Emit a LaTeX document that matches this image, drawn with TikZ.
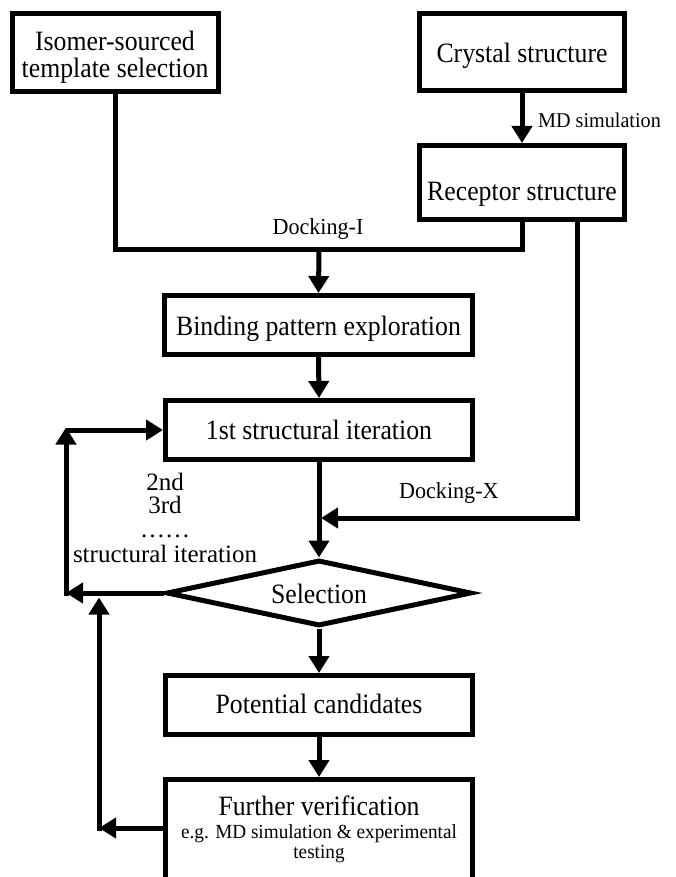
\documentclass[tikz,border=0pt]{standalone}
\usepackage{fontspec}
\setmainfont{Liberation Serif}
\newfontfamily\boxfnt{Liberation Serif}[FakeStretch=0.92]
\newfontfamily\lblfnt{Liberation Serif}[FakeStretch=0.96]
\usetikzlibrary{arrows.meta,shapes.geometric}
\begin{document}
\begin{tikzpicture}[x=1pt,y=-1pt,
  box/.style={draw,line width=5pt,inner sep=0pt,align=center,text depth=0pt,font=\boxfnt\fontsize{28}{27}\selectfont},
  conn/.style={line width=5pt},
  arr/.style={line width=5pt,-{Triangle[length=17pt,width=20pt]}},
  lbl/.style={inner sep=0pt,font=\lblfnt\fontsize{23}{24}\selectfont},
  itlbl/.style={inner sep=0pt,anchor=base,font=\fontsize{25}{25}\selectfont}]
\clip (0,0) rectangle (675,877);
\fill[white] (0,0) rectangle (675,877);

% boxes
\node[box,minimum width=206pt,minimum height=78pt,text height=50pt] (iso) at (115,52.5) {Isomer-sourced\\template selection};
\node[box,minimum width=205pt,minimum height=77pt,text height=22pt] (crys) at (522,52) {Crystal structure};
\node[box,minimum width=205pt,minimum height=74pt,text height=37pt] (rec) at (522,182.5) {Receptor structure};
\node[box,minimum width=308pt,minimum height=59pt,text height=20pt] (bind) at (318.5,325) {Binding pattern exploration};
\node[box,minimum width=307pt,minimum height=59pt,text height=19pt] (first) at (319,430) {1st structural iteration};
\node[box,diamond,aspect=4.6,minimum width=305pt,minimum height=66pt,text height=20pt] (sel) at (319,593) {Selection};
\node[box,minimum width=307pt,minimum height=59pt,text height=16pt] (pot) at (319,705) {Potential candidates};
\node[box,minimum width=307pt,minimum height=103pt,text height=54pt] (fur) at (319,831)
  {Further verification\\[-4pt]
   {\lblfnt\fontsize{20}{20}\selectfont e.g. MD simulation \& experimental}\\[-7pt]
   {\lblfnt\fontsize{20}{20}\selectfont testing}};

% junction coordinates
\coordinate (jI) at (319,249);
\coordinate (jX) at (321,518);
\coordinate (ra) at (577,222);
\coordinate (L1) at (66,593);
\coordinate (L1b) at (66,595.5);
\coordinate (L2) at (66,427.5);
\coordinate (L2b) at (66,430);
\coordinate (L3) at (99,830.5);
\coordinate (L4) at (99,597.5);
\coordinate (L5) at (99,828);

% connectors
\draw[conn] (iso.south) |- (jI) -| (rec.south);
\draw[arr] (jI) -- (bind.north);
\draw[arr] (crys.south) -- (rec.north);
\draw[arr] (bind.south) -- (first.north);
\draw[arr] (ra) |- (jX);
\draw[arr] (first.south) -- (sel.north);
\draw[arr] (sel.south) -- (pot.north);
\draw[arr] (pot.south) -- (fur.north);
\draw[arr] (sel.west) -- (L1);
\draw[arr] (L1b) -- (L2);
\draw[arr] (L2b) -- (first.west);
\draw[arr] ([yshift=3pt]fur.west) -- (L5);
\draw[arr] (L3) -- (L4);

% labels
\node[lbl,anchor=base] (dI) at (318,235) {Docking-I};
\node[lbl,anchor=base west,font=\lblfnt\fontsize{21}{22}\selectfont] (md) at (538,128) {MD simulation};
\node[lbl,anchor=base west] (dX) at (399,498) {Docking-X};
\node[itlbl] (it2) at (165,490) {2nd};
\node[itlbl] (it3) at (165,513) {3rd};
\node[itlbl] (itd) at (165,537) {……};
\node[itlbl] (its) at (165,562) {structural iteration};
\end{tikzpicture}
\end{document}
